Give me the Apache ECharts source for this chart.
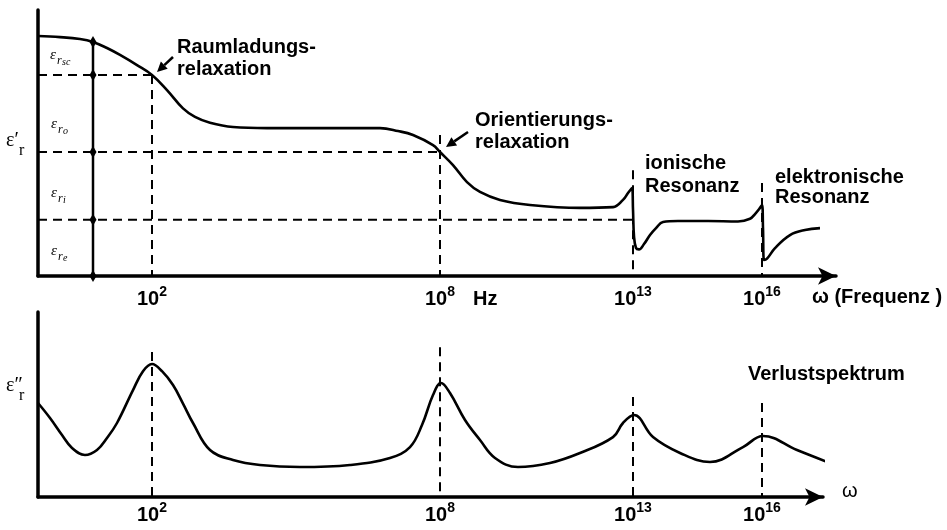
<!DOCTYPE html>
<html><head><meta charset="utf-8">
<script src="https://cdn.jsdelivr.net/npm/echarts@6/dist/echarts.min.js"></script>
<style>html,body{margin:0;padding:0;background:#fff}#c{width:947px;height:530px}</style>
</head><body><div id="c"></div>
<script>
// schematic frequency positions of the marked frequencies (axis units)
const TICK_POS = [114, 402, 595, 724];
const TICK_EXP = ['2', '8', '13', '16'];
// permittivity levels (schematic units): total, after space-charge, after orientation, after ionic, zero
const LEVELS = [8.80, 7.56, 4.66, 2.11, 0];
const MARKER_X = 55;
// upper ends of the dashed frequency markers
const TOP_DASH_TOP = [7.56, 5.30, 3.98, 3.50];
const BOT_DASH_TOP = [7.84, 8.10, 5.40, 5.08];
// real part eps'_r (schematic)
const REAL_PART = [[0,9.02],[22,8.98],[42,8.91],[55,8.80],[69,8.57],[82,8.31],[99,7.93],[114,7.56],[129,6.99],[145,6.30],[157,5.98],[172,5.76],[195,5.60],[229,5.56],[300,5.56],[342,5.56],[360,5.45],[375,5.30],[395,4.92],[402,4.66],[415,4.17],[429,3.53],[442,3.16],[462,2.86],[492,2.67],[542,2.56],[575,2.59],[585,2.86],[590,3.12],[594,3.31],[595,2.5],[596,1.5],[598,1.05],[601,1.0],[606,1.2],[612,1.54],[618,1.8],[625,2.03],[640,2.07],[670,2.07],[700,2.05],[712,2.15],[717,2.33],[722,2.56],[724,2.67],[725,1.8],[726,0.6],[729,0.65],[737,1.05],[752,1.54],[767,1.73],[782,1.80]];
// loss spectrum eps''_r (schematic)
const LOSS = [[0,5.08],[12,4.27],[24,3.35],[34,2.65],[47,2.27],[59,2.54],[69,3.19],[79,4.0],[95,5.78],[105,6.80],[114,7.19],[124,6.80],[135,6.05],[145,5.05],[155,4.0],[172,2.54],[195,2.0],[222,1.73],[262,1.62],[312,1.73],[352,2.11],[372,2.70],[384,3.89],[395,5.51],[403,6.16],[412,5.62],[427,4.16],[442,3.08],[457,2.11],[480,1.62],[512,1.84],[542,2.38],[575,3.24],[585,4.0],[596,4.43],[615,3.24],[642,2.38],[672,1.89],[705,2.70],[725,3.30],[759,2.54],[797,1.73]];

const SANS = '"Liberation Sans", Arial, sans-serif';
const SERIF = '"Liberation Serif", "Times New Roman", serif';

function xAxisCfg(idx, max, margin) {
  return {
    type: 'value', gridIndex: idx, min: 0, max: max,
    axisLine: { show: true, onZero: false, symbol: ['none', 'arrow'], symbolSize: [13, 18], lineStyle: { color: '#000', width: 3.5 } },
    axisTick: { show: false }, splitLine: { show: false },
    axisLabel: {
      customValues: TICK_POS, margin: margin,
      formatter: v => { const i = TICK_POS.indexOf(v); return '{b|10}{s|' + TICK_EXP[i] + '}'; },
      rich: {
        b: { fontFamily: SANS, fontSize: 20, fontWeight: 'bold', color: '#000', lineHeight: 28 },
        s: { fontFamily: SANS, fontSize: 14, fontWeight: 'bold', color: '#000', lineHeight: 14, verticalAlign: 'top' }
      }
    }
  };
}
function yAxisCfg(idx) {
  return {
    type: 'value', gridIndex: idx, min: 0, max: 10,
    axisLine: { show: true, lineStyle: { color: '#000', width: 3.5 } },
    axisTick: { show: false }, axisLabel: { show: false }, splitLine: { show: false }
  };
}
const dash = { type: [9, 6], width: 2, color: '#000' };
function seg(data, gi, style, z) {
  return { type: 'line', xAxisIndex: gi, yAxisIndex: gi, data: data, symbol: 'none', lineStyle: style, silent: true, z: z || 2, clip: false };
}
const series = [];
for (let i = 0; i < 3; i++) series.push(seg([[0, LEVELS[i + 1]], [TICK_POS[i], LEVELS[i + 1]]], 0, dash));
for (let i = 0; i < 4; i++) series.push(seg([[TICK_POS[i], TOP_DASH_TOP[i]], [TICK_POS[i], 0]], 0, dash));
for (let i = 0; i < 4; i++) series.push(seg([[TICK_POS[i], BOT_DASH_TOP[i]], [TICK_POS[i], 0]], 1, dash));
series.push({ type: 'line', xAxisIndex: 0, yAxisIndex: 0, data: LEVELS.map(v => [MARKER_X, v]), symbol: 'diamond', symbolSize: [7, 12], showSymbol: true,
  itemStyle: { color: '#000' }, lineStyle: { color: '#000', width: 2.5 }, silent: true, z: 3, clip: false });
series.push({ type: 'line', xAxisIndex: 0, yAxisIndex: 0, data: REAL_PART, symbol: 'none', smooth: 0.4,
  lineStyle: { color: '#000', width: 2.6 }, silent: true, z: 4, clip: false });
series.push({ type: 'line', xAxisIndex: 1, yAxisIndex: 1, data: LOSS, symbol: 'none', smooth: 0.4,
  lineStyle: { color: '#000', width: 2.6 }, silent: true, z: 4, clip: false });

function arrow(x1, y1, x2, y2) {
  const dx = x2 - x1, dy = y2 - y1, L = Math.hypot(dx, dy), ux = dx / L, uy = dy / L;
  const hl = 10, hw = 5, bx = x2 - ux * hl, by = y2 - uy * hl;
  return [
    { type: 'line', shape: { x1: x1, y1: y1, x2: bx, y2: by }, style: { stroke: '#000', lineWidth: 2.5 } },
    { type: 'polygon', shape: { points: [[x2, y2], [bx - uy * hw, by + ux * hw], [bx + uy * hw, by - ux * hw]] }, style: { fill: '#000' } }
  ];
}
function txt(x, y, text, size, extra) {
  return { type: 'text', x: x, y: y, style: Object.assign({ text: text, fontFamily: SANS, fontSize: size || 20, fontWeight: 'bold', fill: '#000', verticalAlign: 'top', align: 'left' }, extra || {}) };
}
function epsLabel(x, y, sub) {
  const st = { fontFamily: SERIF, fontStyle: 'italic', fontWeight: 'normal' };
  return [
    txt(x, y, 'ε', 15, st),
    txt(x + 7, y + 7, 'r', 12, st),
    txt(x + 12, y + 9, sub, 10, st)
  ];
}
const graphic = [].concat(
  txt(177, 36, 'Raumladungs-\nrelaxation', 20, { lineHeight: 22 }),
  arrow(173, 57, 157, 72),
  txt(475, 109, 'Orientierungs-\nrelaxation', 20, { lineHeight: 22 }),
  arrow(468, 132, 446, 147),
  txt(645, 152, 'ionische\nResonanz', 20, { lineHeight: 23 }),
  txt(775, 167, 'elektronische\nResonanz', 20, { lineHeight: 20 }),
  txt(748, 364, 'Verlustspektrum', 20),
  txt(473, 289, 'Hz', 20),
  txt(812, 287, 'ω (Frequenz )', 20),
  txt(842, 481, 'ω', 20, { fontWeight: 'normal' }),
  txt(6, 131, 'ε′', 20, { fontFamily: SERIF, fontWeight: 'normal' }),
  txt(19, 143, 'r', 16, { fontFamily: SERIF, fontWeight: 'normal' }),
  txt(6, 376, 'ε″', 20, { fontFamily: SERIF, fontWeight: 'normal' }),
  txt(19, 388, 'r', 16, { fontFamily: SERIF, fontWeight: 'normal' }),
  epsLabel(50, 48, 'sc'),
  epsLabel(51, 117, 'o'),
  epsLabel(51, 186, 'i'),
  epsLabel(51, 244, 'e')
);

const chart = echarts.init(document.getElementById('c'), null, { renderer: 'canvas' });
chart.setOption({
  backgroundColor: '#fff',
  animation: false,
  grid: [
    { left: 38, top: 10, width: 798, height: 266, containLabel: false, outerBoundsMode: 'none' },
    { left: 38, top: 312, width: 785, height: 185, containLabel: false, outerBoundsMode: 'none' }
  ],
  xAxis: [xAxisCfg(0, 798, 9), xAxisCfg(1, 785, 4)],
  yAxis: [yAxisCfg(0), yAxisCfg(1)],
  series: series,
  graphic: graphic
});
</script></body></html>
